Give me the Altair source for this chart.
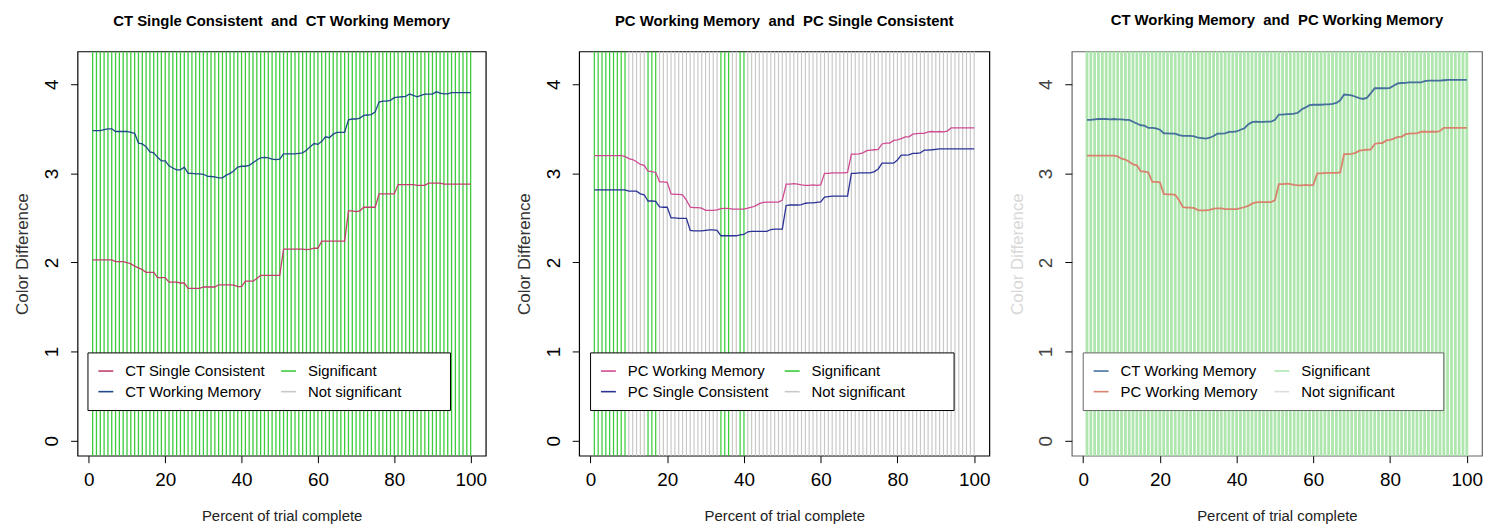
import altair as alt
import pandas as pd

# ---------------- data ----------------
X = list(range(1, 101))

P1_CT_SINGLE = [
    2.03, 2.03, 2.03, 2.03, 2.03, 2.03, 2.01, 2.01, 2.01, 2.00,
    1.985, 1.96, 1.94, 1.92, 1.89, 1.89, 1.89, 1.83, 1.83, 1.83,
    1.78, 1.78, 1.78, 1.77, 1.77, 1.71, 1.71, 1.71, 1.71, 1.725,
    1.725, 1.725, 1.725, 1.75, 1.75, 1.75, 1.75, 1.745, 1.73, 1.73,
    1.79, 1.79, 1.79, 1.82, 1.855, 1.855, 1.855, 1.855, 1.855, 1.855,
    2.15, 2.15, 2.15, 2.15, 2.15, 2.15, 2.145, 2.15, 2.16, 2.16,
    2.24, 2.24, 2.24, 2.24, 2.24, 2.24, 2.24, 2.58, 2.58, 2.57,
    2.58, 2.62, 2.62, 2.62, 2.62, 2.77, 2.77, 2.77, 2.77, 2.77,
    2.875, 2.875, 2.875, 2.875, 2.875, 2.865, 2.865, 2.865, 2.89, 2.89,
    2.89, 2.89, 2.88, 2.88, 2.88, 2.88, 2.88, 2.88, 2.88, 2.88,
]
P1_CT_WM = [
    3.48, 3.48, 3.48, 3.49, 3.50, 3.50, 3.47, 3.47, 3.47, 3.47,
    3.46, 3.45, 3.34, 3.33, 3.30, 3.24, 3.23, 3.18, 3.14, 3.14,
    3.085, 3.06, 3.04, 3.04, 3.07, 3.00, 3.00, 2.995, 2.995, 2.99,
    2.97, 2.965, 2.96, 2.95, 2.95, 2.98, 3.00, 3.03, 3.07, 3.08,
    3.08, 3.09, 3.12, 3.15, 3.175, 3.18, 3.175, 3.16, 3.155, 3.16,
    3.22, 3.22, 3.22, 3.22, 3.225, 3.23, 3.26, 3.30, 3.335, 3.325,
    3.36, 3.41, 3.40, 3.44, 3.46, 3.46, 3.46, 3.60, 3.61, 3.61,
    3.62, 3.65, 3.655, 3.66, 3.69, 3.80, 3.81, 3.81, 3.82, 3.85,
    3.855, 3.86, 3.865, 3.89, 3.875, 3.86, 3.875, 3.89, 3.89, 3.89,
    3.915, 3.90, 3.893, 3.893, 3.907, 3.907, 3.907, 3.907, 3.907, 3.907,
]
P2_PC_WM = [
    3.20, 3.20, 3.20, 3.20, 3.20, 3.20, 3.20, 3.20, 3.19, 3.165,
    3.155, 3.13, 3.10, 3.09, 3.025, 3.02, 3.01, 2.905, 2.905, 2.90,
    2.77, 2.765, 2.765, 2.76, 2.70, 2.62, 2.615, 2.615, 2.61, 2.585,
    2.585, 2.585, 2.59, 2.605, 2.607, 2.607, 2.60, 2.60, 2.60, 2.60,
    2.61, 2.62, 2.635, 2.66, 2.675, 2.678, 2.678, 2.678, 2.678, 2.70,
    2.88, 2.88, 2.885, 2.88, 2.87, 2.866, 2.866, 2.87, 2.866, 2.87,
    3.00, 3.00, 3.005, 3.005, 3.005, 3.005, 3.01, 3.215, 3.215, 3.22,
    3.23, 3.255, 3.26, 3.265, 3.27, 3.33, 3.34, 3.34, 3.37, 3.375,
    3.39, 3.41, 3.41, 3.44, 3.445, 3.45, 3.45, 3.465, 3.47, 3.465,
    3.47, 3.465, 3.475, 3.51, 3.51, 3.51, 3.51, 3.51, 3.51, 3.51,
]
P2_PC_SINGLE = [
    2.815, 2.815, 2.815, 2.815, 2.815, 2.815, 2.815, 2.815, 2.815, 2.80,
    2.80, 2.80, 2.77, 2.76, 2.69, 2.69, 2.685, 2.625, 2.62, 2.62,
    2.50, 2.50, 2.495, 2.495, 2.495, 2.36, 2.355, 2.355, 2.355, 2.36,
    2.365, 2.365, 2.36, 2.30, 2.30, 2.30, 2.30, 2.30, 2.31, 2.315,
    2.345, 2.35, 2.35, 2.35, 2.35, 2.35, 2.37, 2.375, 2.375, 2.375,
    2.64, 2.645, 2.645, 2.645, 2.65, 2.665, 2.67, 2.67, 2.675, 2.68,
    2.735, 2.74, 2.745, 2.745, 2.745, 2.745, 2.745, 3.00, 3.00, 3.005,
    3.005, 3.005, 3.005, 3.02, 3.05, 3.115, 3.115, 3.115, 3.115, 3.15,
    3.205, 3.205, 3.207, 3.225, 3.226, 3.23, 3.262, 3.262, 3.265, 3.27,
    3.274, 3.274, 3.274, 3.274, 3.274, 3.274, 3.274, 3.274, 3.274, 3.274,
]
P3_CT_WM = [
    3.60, 3.60, 3.605, 3.61, 3.61, 3.61, 3.605, 3.61, 3.605, 3.605,
    3.60, 3.60, 3.58, 3.56, 3.54, 3.535, 3.51, 3.51, 3.505, 3.49,
    3.45, 3.45, 3.445, 3.445, 3.43, 3.42, 3.42, 3.42, 3.415, 3.40,
    3.395, 3.39, 3.40, 3.42, 3.445, 3.445, 3.45, 3.465, 3.465, 3.47,
    3.49, 3.505, 3.55, 3.575, 3.58, 3.578, 3.578, 3.58, 3.58, 3.60,
    3.66, 3.66, 3.665, 3.665, 3.67, 3.68, 3.72, 3.74, 3.765, 3.77,
    3.77, 3.77, 3.775, 3.775, 3.78, 3.79, 3.82, 3.885, 3.88, 3.875,
    3.86, 3.845, 3.835, 3.85, 3.90, 3.955, 3.955, 3.955, 3.955, 3.96,
    3.985, 4.01, 4.014, 4.015, 4.02, 4.02, 4.02, 4.02, 4.035, 4.04,
    4.04, 4.04, 4.04, 4.045, 4.05, 4.05, 4.05, 4.05, 4.05, 4.05,
]
P3_PC_WM = list(P2_PC_WM)

P1_SIG_X = list(range(1, 101))
P2_SIG_X = [1, 2, 3, 4, 5, 6, 7, 8, 9, 15, 16, 17, 34, 35, 36, 39, 40]
P3_SIG_X = list(range(1, 101))

SIG_LABEL = "Significant"
NOT_SIG_LABEL = "Not significant"

X_TICKS = [0, 20, 40, 60, 80, 100]
Y_TICKS = [0, 1, 2, 3, 4]

NB = "\u00a0"
EM = "\u2003"
FONT = "Liberation Sans"
PLOT_H = 407


def panel(title, names, series, sig_x, line_colors, sig_colors, rule_w,
          line_w, frame_color, ytitle_color, ylabel_color, width, legend_x):
    # trailing blanks widen the legend's second column like in R
    not_sig = NOT_SIG_LABEL + EM * 2 + NB * 2 + "\u200b"
    line_df = pd.DataFrame({
        "x": X + X,
        "value": series[0] + series[1],
        "label": [names[0]] * len(X) + [names[1]] * len(X),
    })
    rule_df = pd.DataFrame({
        "x": X,
        "label": [SIG_LABEL if v in sig_x else not_sig for v in X],
    })
    # legend entries are laid out column by column
    domain = [names[0], names[1], SIG_LABEL, not_sig]
    rng = [line_colors[0], line_colors[1], sig_colors[0], sig_colors[1]]
    legend = alt.Legend(
        title=None, orient="none", legendX=legend_x, legendY=303,
        columns=2, gridAlign="each", symbolType="stroke", symbolSize=225,
        symbolStrokeWidth=1.6, labelFontSize=15, labelFont=FONT,
        labelColor="black", labelOffset=11, columnPadding=12, rowPadding=4,
        padding=10, strokeColor=frame_color, fillColor="white",
        labelLimit=400,
    )
    color = alt.Color("label:N", scale=alt.Scale(domain=domain, range=rng),
                      legend=legend)
    xscale = alt.Scale(domain=[-2.96, 103.96], nice=False, zero=False)
    yscale = alt.Scale(domain=[-0.168, 4.368], nice=False, zero=False)
    xaxis = alt.Axis(values=X_TICKS, title="Percent of trial complete",
                     domain=False, grid=False, tickSize=7, tickColor="black",
                     labelFontSize=19, labelColor="black", labelPadding=8,
                     titleFontSize=15, titleFontWeight="normal",
                     titleColor="#222222", titlePadding=19, labelFlush=False)
    yaxis = alt.Axis(values=Y_TICKS, title="Color Difference",
                     domain=False, grid=False, tickSize=7, tickColor="black",
                     labelFontSize=19, labelColor=ylabel_color, labelAngle=270,
                     labelAlign="center", labelBaseline="bottom",
                     labelPadding=9, titleFontSize=17, titleFontWeight="normal",
                     titleColor=ytitle_color, titlePadding=11)
    rules = alt.Chart(rule_df).mark_rule(strokeWidth=rule_w).encode(
        x=alt.X("x:Q", scale=xscale, axis=xaxis),
        color=color,
    )
    lines = alt.Chart(line_df).mark_line(strokeWidth=line_w).encode(
        x=alt.X("x:Q", scale=xscale, axis=xaxis),
        y=alt.Y("value:Q", scale=yscale, axis=yaxis),
        color=color,
    )
    return alt.layer(rules, lines).properties(
        width=width, height=PLOT_H,
        title=alt.TitleParams(title, fontSize=15, fontWeight="bold", font=FONT,
                              anchor="middle", offset=22, color="black"),
        view=alt.ViewBackground(stroke=frame_color, strokeWidth=1.2),
    )


def spacer(w):
    return alt.Chart(pd.DataFrame({"s": [0]})).mark_point(opacity=0).properties(
        width=w, height=PLOT_H,
        view=alt.ViewBackground(stroke="transparent"),
    )


p1 = panel(f"CT Single Consistent {NB}and {NB}CT Working Memory",
           ["CT Single Consistent", "CT Working Memory"],
           [P1_CT_SINGLE, P1_CT_WM], P1_SIG_X,
           ["#c0406e", "#1f4a8a"], ["#3dcc3d", "#c8c8c8"], 1.3, 1.3,
           "black", "#333333", "black", 411, 10)
p2 = panel(f"PC Working Memory {NB}and {NB}PC Single Consistent",
           ["PC Working Memory", "PC Single Consistent"],
           [P2_PC_WM, P2_PC_SINGLE], P2_SIG_X,
           ["#d04a92", "#2b3196"], ["#33cc33", "#c8c8c8"], 1.2, 1.3,
           "black", "#333333", "black", 413, 11)
p3 = panel(f"CT Working Memory {NB}and {NB}PC Working Memory",
           ["CT Working Memory", "PC Working Memory"],
           [P3_CT_WM, P3_PC_WM], P3_SIG_X,
           ["#46709c", "#d9826e"], ["#aee6ae", "#dddddd"], 2.8, 1.8,
           "#666666", "#d8d8d8", "#444444", 413, 11)

chart = alt.hconcat(
    p1, spacer(94), p2, spacer(83), p3, spacing=0, bounds="flush"
).resolve_scale(
    color="independent"
).properties(
    padding={"left": 5, "top": 3, "right": 0, "bottom": 0},
).configure(font=FONT).configure_axis(labelFont=FONT, titleFont=FONT)

chart.save("out.html", embed_options={"renderer": "svg", "actions": False})
